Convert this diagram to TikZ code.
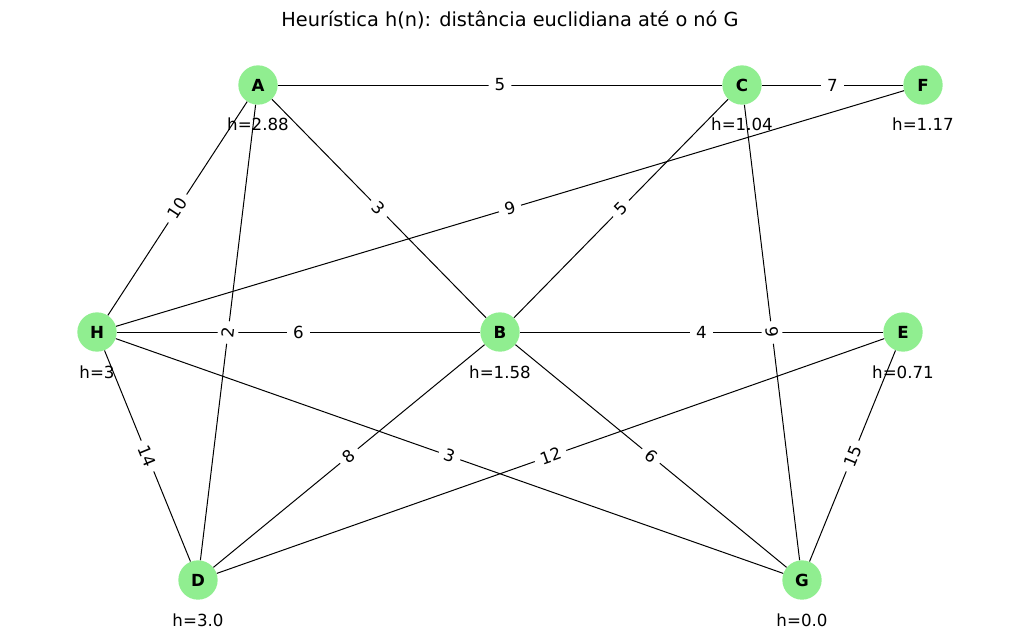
\documentclass[tikz,border=0pt]{standalone}
\usepackage{fontspec}
\setmainfont{DejaVu Sans}
\begin{document}
\begin{tikzpicture}[x=0.75pt,y=-0.75pt,
  vtx/.style={circle,fill={rgb,255:red,144;green,238;blue,144},minimum size=29.5pt,inner sep=0pt,font=\fontsize{12.5}{15}\selectfont\bfseries},
  edge/.style={draw=black,line width=0.75pt},
  lbl/.style={fill=white,inner xsep=4.5pt,inner ysep=3pt,rounded corners=2pt,font=\fontsize{12.5}{15}\selectfont},
  hlbl/.style={inner sep=0pt,font=\fontsize{12.5}{15}\selectfont},
  ttl/.style={inner sep=0pt,font=\fontsize{14.5}{17}\selectfont}]
\useasboundingbox (0,0) rectangle (1019,643);
\node[ttl] (title) at (510,20) {Heurística h(n): distância euclidiana até o nó G};
\node[vtx] (A) at (258,85) {A};
\node[vtx] (C) at (742,85) {C};
\node[vtx] (F) at (923,85) {F};
\node[vtx] (H) at (97,332) {H};
\node[vtx] (B) at (500,332) {B};
\node[vtx] (E) at (903,332) {E};
\node[vtx] (D) at (198,580) {D};
\node[vtx] (G) at (802,580) {G};
% edges
\foreach \u/\v in {A/C,C/F,A/H,A/B,A/D,H/F,C/B,C/G,H/B,B/E,H/D,H/G,B/D,D/E,B/G,E/G}{
  \draw[edge] (\u) -- (\v);
}
% edge labels
\foreach \u/\v/\w in {A/C/5,C/F/7,A/H/10,A/B/3,A/D/2,H/F/9,C/B/5,C/G/9,H/B/6,B/E/4,H/D/14,H/G/3,B/D/8,D/E/12,B/G/6,E/G/15}{
  \path (\u) -- (\v) node[midway,sloped,lbl] {\w};
}
% heuristic labels
\node[hlbl] (hA) at (258,124) {h=2.88};
\node[hlbl] (hC) at (742,124) {h=1.04};
\node[hlbl] (hF) at (923,124) {h=1.17};
\node[hlbl] (hH) at (97,372) {h=3};
\node[hlbl] (hB) at (500,372) {h=1.58};
\node[hlbl] (hE) at (903,372) {h=0.71};
\node[hlbl] (hD) at (198,620) {h=3.0};
\node[hlbl] (hG) at (802,620) {h=0.0};
\end{tikzpicture}
\end{document}
